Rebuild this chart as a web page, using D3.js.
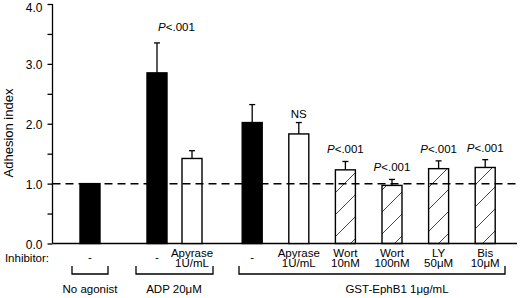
<!DOCTYPE html>
<html>
<head>
<meta charset="utf-8">
<script src="https://cdn.jsdelivr.net/npm/d3@7"></script>
<style>
  body { margin: 0; background: #fff; }
  svg { font-family: "Liberation Sans", Arial, Helvetica, sans-serif; }
</style>
</head>
<body>
<div id="chart"></div>
<script>
// data
var groups = ["No agonist", "ADP 20\u03BCM", "GST-EphB1 1\u03BCg/mL"];
var barGroup = [0, 1, 1, 2, 2, 2, 2, 2, 2];
var inhibitorLine1 = ["-", "-", "Apyrase", "-", "Apyrase", "Wort", "Wort", "LY", "Bis"];
var inhibitorLine2 = ["", "", "1U/mL", "", "1U/mL", "10nM", "100nM", "50\u03BCM", "10\u03BCM"];
var values = [1.0, 2.85, 1.42, 2.02, 1.83, 1.23, 0.97, 1.25, 1.27];
var errTop = [null, 3.35, 1.55, 2.32, 2.02, 1.37, 1.07, 1.38, 1.40];
var fillType = ["black", "black", "white", "black", "white", "hatch", "hatch", "hatch", "hatch"];
var annotations = [null, "P", null, null, "NS", "P", "P", "P", "P"];
var yTicks = [0, 1, 2, 3, 4];

var width = 520, height = 298;
var barW = 20;

var svg = d3.select("#chart").append("svg")
    .attr("width", width)
    .attr("height", height);

// hatch pattern for the inhibitor bars
var defs = svg.append("defs");
defs.append("pattern")
    .attr("id", "hatch")
    .attr("patternUnits", "userSpaceOnUse")
    .attr("width", 22).attr("height", 22)
    .append("path")
    .attr("d", "M-2,2 L2,-2 M0,22 L22,0 M20,24 L24,20")
    .attr("stroke", "#333").attr("stroke-width", 0.9);

var y = d3.scaleLinear().domain([0, 4]).range([243.5, 4]);

// each group gets its own span on the x axis (also used for the brackets)
var groupLayout = [
  { range: [72, 108], padding: 0.5, align: 0.5 },
  { range: [136, 213], padding: 0.6, align: 0.5 },
  { range: [239, 505], padding: 0.354, align: 0.4 }
];
var groupScales = groupLayout.map(function (g, gi) {
  var ids = d3.range(values.length).filter(function (i) { return barGroup[i] === gi; });
  return d3.scalePoint().domain(ids).range(g.range).padding(g.padding).align(g.align);
});
function xc(i) { return groupScales[barGroup[i]](i); }

// y axis
var axisX = 52.5;
var yAxis = d3.axisLeft(y)
    .tickValues(d3.range(0, 4.01, 0.5))
    .tickSize(5)
    .tickFormat(function (d) { return yTicks.indexOf(d) >= 0 ? d3.format(".1f")(d) : ""; });
var gy = svg.append("g")
    .attr("transform", "translate(" + axisX + ",0)")
    .call(yAxis);
gy.select(".domain").attr("d", "M0," + y(4) + "V" + y(0)).attr("stroke-width", 1.3);
gy.selectAll(".tick line").attr("stroke-width", 1.3);
gy.selectAll(".tick text").attr("font-size", 12).attr("x", -10)
    .attr("dy", function (d) { return d === 4 ? "0.6em" : "0.38em"; })
    .attr("font-family", "Liberation Sans, Arial, sans-serif");

svg.append("text")
    .attr("transform", "translate(13,133) rotate(-90)")
    .attr("text-anchor", "middle")
    .attr("font-size", 13)
    .text("Adhesion index");

// baseline
svg.append("line")
    .attr("x1", axisX).attr("x2", 517)
    .attr("y1", y(0)).attr("y2", y(0))
    .attr("stroke", "#000").attr("stroke-width", 1.3);

// bars
var idx = d3.range(values.length);
svg.selectAll("rect.bar")
    .data(idx)
    .enter()
    .append("rect")
    .attr("class", "bar")
    .attr("x", function (i) { return xc(i) - barW / 2; })
    .attr("y", function (i) { return y(values[i]); })
    .attr("width", barW)
    .attr("height", function (i) { return y(0) - y(values[i]); })
    .attr("fill", function (i) {
      return fillType[i] === "black" ? "#000" : fillType[i] === "white" ? "#fff" : "url(#hatch)";
    })
    .attr("stroke", "#000")
    .attr("stroke-width", 1.4);

// reference line at 1.0
svg.append("line")
    .attr("x1", axisX).attr("x2", 519)
    .attr("y1", y(1)).attr("y2", y(1))
    .attr("stroke", "#000").attr("stroke-width", 1.5)
    .attr("stroke-dasharray", "8,5");

// error bars
var errIdx = idx.filter(function (i) { return errTop[i] !== null; });
var eb = svg.selectAll("g.err").data(errIdx).enter().append("g").attr("class", "err");
eb.append("line")
    .attr("x1", xc).attr("x2", xc)
    .attr("y1", function (i) { return y(values[i]); })
    .attr("y2", function (i) { return y(errTop[i]); })
    .attr("stroke", "#000").attr("stroke-width", 1.3);
eb.append("line")
    .attr("x1", function (i) { return xc(i) - 3; })
    .attr("x2", function (i) { return xc(i) + 3; })
    .attr("y1", function (i) { return y(errTop[i]); })
    .attr("y2", function (i) { return y(errTop[i]); })
    .attr("stroke", "#000").attr("stroke-width", 1.3);

// significance labels
var annIdx = idx.filter(function (i) { return annotations[i] !== null; });
var ann = svg.selectAll("text.ann").data(annIdx).enter().append("text")
    .attr("class", "ann")
    .attr("x", function (i) {
      // the first label sits over the middle of its group
      return i === 1 ? d3.mean(groupLayout[1].range) + 2 : xc(i);
    })
    .attr("y", function (i) { return y(errTop[i]) - (i === 1 ? 12 : annotations[i] === "NS" ? 5 : 8); })
    .attr("text-anchor", "middle")
    .attr("font-size", 11.5);
ann.filter(function (i) { return annotations[i] === "P"; })
    .each(function () {
      var t = d3.select(this);
      t.append("tspan").attr("font-style", "italic").text("P");
      t.append("tspan").text("<.001");
    });
ann.filter(function (i) { return annotations[i] === "NS"; }).text("NS");

// inhibitor row
svg.append("text")
    .attr("x", 49).attr("y", 262)
    .attr("text-anchor", "end")
    .attr("font-size", 11.5)
    .text("Inhibitor:");

svg.selectAll("text.inh1").data(idx).enter().append("text")
    .attr("class", "inh1")
    .attr("x", xc)
    .attr("y", function (i) { return inhibitorLine2[i] === "" ? 261 : 256.5; })
    .attr("text-anchor", "middle")
    .attr("font-size", 11.5)
    .text(function (i) { return inhibitorLine1[i]; });

svg.selectAll("text.inh2").data(idx).enter().append("text")
    .attr("class", "inh2")
    .attr("x", xc)
    .attr("y", 267)
    .attr("text-anchor", "middle")
    .attr("font-size", 11.5)
    .text(function (i) { return inhibitorLine2[i]; });

// group brackets
var bracketY = 274;
svg.selectAll("path.bracket").data(groupLayout).enter().append("path")
    .attr("class", "bracket")
    .attr("d", function (g) {
      return "M" + g.range[0] + "," + (bracketY - 8) + "V" + bracketY +
             "H" + g.range[1] + "V" + (bracketY - 8);
    })
    .attr("fill", "none")
    .attr("stroke", "#000")
    .attr("stroke-width", 1.3);

var groupLabelX = [90, 174, 397];
svg.selectAll("text.grp").data(groups).enter().append("text")
    .attr("class", "grp")
    .attr("x", function (d, i) { return groupLabelX[i]; })
    .attr("y", 293)
    .attr("text-anchor", "middle")
    .attr("font-size", 11.5)
    .text(function (d) { return d; });
</script>
</body>
</html>
